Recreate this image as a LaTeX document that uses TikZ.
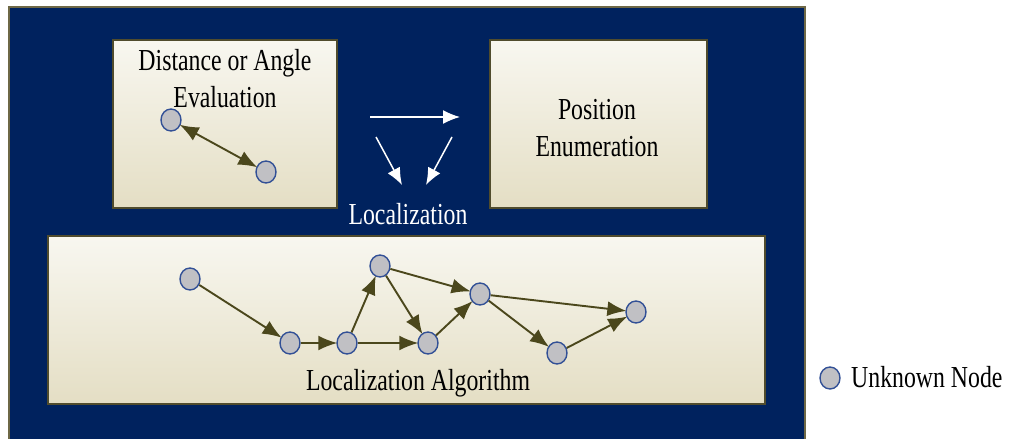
\documentclass[tikz,border=0pt]{standalone}
\usepackage{fontspec}
\setmainfont{Liberation Serif}[FakeStretch=0.78]
\usetikzlibrary{arrows.meta,shapes.geometric}
\definecolor{navy}{RGB}{0,34,94}
\definecolor{frame}{RGB}{110,104,70}
\definecolor{boxtop}{RGB}{248,247,240}
\definecolor{boxbot}{RGB}{228,222,196}
\definecolor{boxline}{RGB}{80,76,45}
\definecolor{edge}{RGB}{75,71,28}
\definecolor{nodefill}{RGB}{192,192,196}
\definecolor{nodeline}{RGB}{50,80,150}
\tikzset{tip/.tip={Latex[length=19pt,width=15pt]}}
\begin{document}
\begin{tikzpicture}[x=1pt,y=-1pt,
  panel/.style={draw=boxline,line width=1.6pt,top color=boxtop,bottom color=boxbot},
  unode/.style={ellipse,draw=nodeline,fill=nodefill,line width=1.4pt,minimum width=20pt,minimum height=22pt,inner sep=0pt},
  link/.style={draw=edge,line width=1.9pt,-tip,shorten >=-1pt},
  wlink/.style={draw=white,line width=1.5pt,-{Latex[length=17pt,width=14pt]}},
  lbl/.style={font=\fontsize{30.5}{37}\selectfont,align=center,inner sep=0pt},
  wlbl/.style={lbl,text=white}]
\useasboundingbox (0,0) rectangle (1018,439);
\fill[white] (0,0) rectangle (1018,439);
\draw[fill=navy,draw=frame,line width=1.5pt] (9,7) rectangle (805,445);
% panels
\draw[panel] (113,40) rectangle (337,208);
\draw[panel] (490,40) rectangle (707,208);
\draw[panel] (48,236) rectangle (765,404);
% texts
\node[lbl] (tdist) at (225,79) {Distance or Angle\\Evaluation};
\node[lbl] (tpos) at (597,128) {Position\\Enumeration};
\node[wlbl] (tloc) at (408,214) {Localization};
\node[lbl] (talg) at (418,383) {Localization Algorithm};
% top-left nodes
\node[unode] (p1) at (171,120) {};
\node[unode] (p2) at (266,172) {};
\draw[link,tip-tip,shorten <=-1pt] (p1) -- (p2);
% white arrows
\coordinate (w1s) at (370,117);
\coordinate (w1e) at (460,117);
\coordinate (w2s) at (376,137);
\coordinate (w2e) at (402,185);
\coordinate (w3s) at (452,137);
\coordinate (w3e) at (426,185);
\draw[wlink] (w1s) -- (w1e);
\draw[wlink] (w2s) -- (w2e);
\draw[wlink] (w3s) -- (w3e);
% graph
\node[unode] (a) at (190,279) {};
\node[unode] (b) at (290,343) {};
\node[unode] (c) at (347,343) {};
\node[unode] (d) at (380,266) {};
\node[unode] (e) at (428,343) {};
\node[unode] (f) at (480,294) {};
\node[unode] (g) at (557,353) {};
\node[unode] (h) at (636,312) {};
\draw[link] (a) -- (b);
\draw[link] (b) -- (c);
\draw[link] (c) -- (d);
\draw[link] (c) -- (e);
\draw[link] (d) -- (e);
\draw[link] (d) -- (f);
\draw[link] (e) -- (f);
\draw[link] (f) -- (g);
\draw[link] (f) -- (h);
\draw[link] (g) -- (h);
% legend
\node[unode] (leg) at (830,378) {};
\node[lbl,anchor=west] (tleg) at (851,377) {Unknown Node};
\end{tikzpicture}
\end{document}
